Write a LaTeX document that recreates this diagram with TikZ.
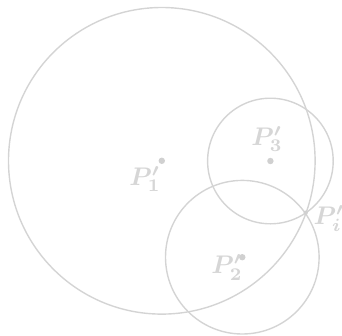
\documentclass[tikz,border=0pt]{standalone}
\usepackage{amsmath,bm}
\definecolor{circgray}{RGB}{212,212,212}
\definecolor{labgray}{RGB}{214,214,214}
\definecolor{dotgray}{RGB}{208,208,208}
\newcommand{\biglab}[1]{\scalebox{2.55}{$\bm{#1}$}}
\begin{document}
\begin{tikzpicture}[x=1pt,y=-1pt,
  circ/.style={draw=circgray,line width=1.4pt},
  dot/.style={fill=dotgray},
  lab/.style={text=labgray,inner sep=0pt}]
\useasboundingbox (0,0) rectangle (342,335);
\coordinate (c1) at (161.8,160.8);
\coordinate (c3) at (270.4,161);
\coordinate (c2) at (242.3,257.2);
\coordinate (pi) at (305.7,212.7);
\draw[circ] (c1) circle (153.3);
\draw[circ] (c3) circle (62.8);
\draw[circ] (c2) circle (76.8);
\fill[dot] (c1) circle (3.2);
\fill[dot] (c3) circle (3.2);
\fill[dot] (c2) circle (3.2);
\fill[dot] (pi) circle (2.2);
\node[lab] (l1) at (145,179) {\biglab{P'_1}};
\node[lab] (l3) at (267,139) {\biglab{P'_3}};
\node[lab] (l2) at (227,267.5) {\biglab{P'_2}};
\node[lab] (li) at (329,218.5) {\biglab{P'_i}};
\end{tikzpicture}
\end{document}
